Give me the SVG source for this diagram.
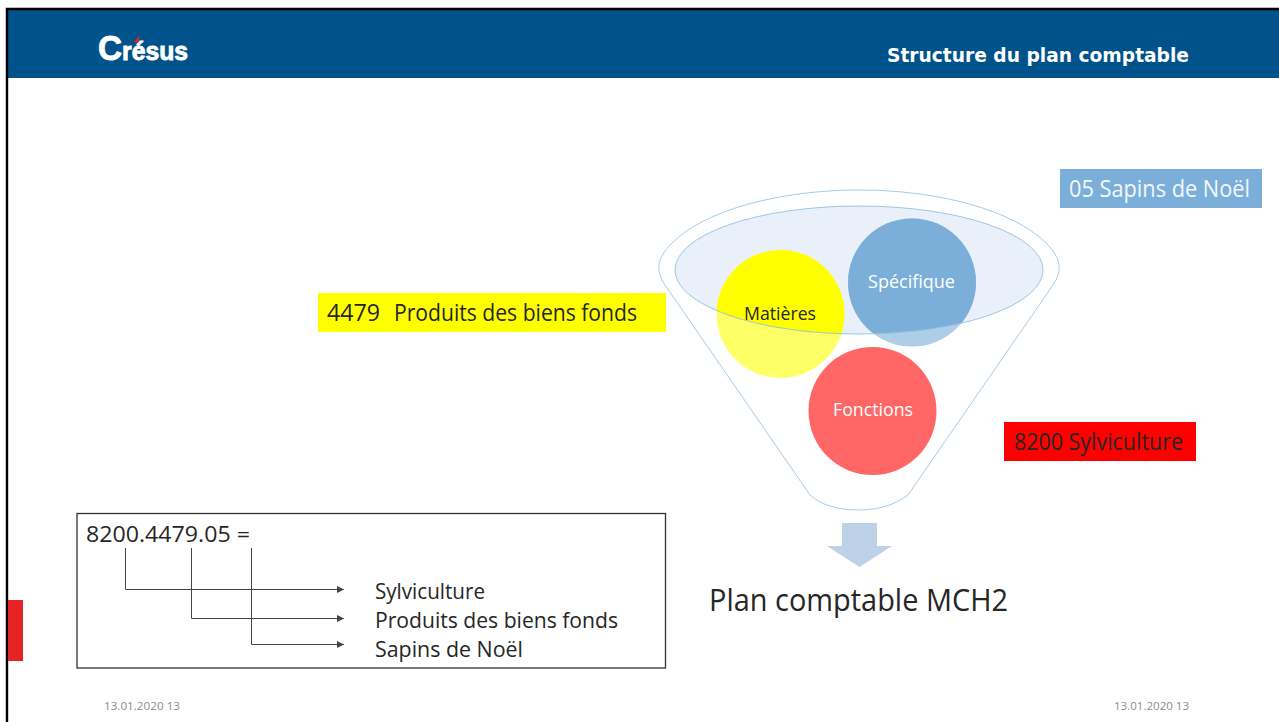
<svg xmlns="http://www.w3.org/2000/svg" width="1279" height="722" viewBox="0 0 1279 722">
<style>
text{font-family:"Open Sans","Noto Sans","Liberation Sans",sans-serif;fill:#262626}
.lbl{font-size:23px}
.box{font-size:22.500px}
.in{font-size:17.500px}
.foot{font-size:10.500px;fill:#8c8c8c}
.fl{fill:none;stroke:#9cc4e4;stroke-width:0.900}
.cn{fill:none;stroke:#444;stroke-width:1;marker-end:url(#ah)}
</style>
<defs>
<marker id="ah" markerUnits="userSpaceOnUse" markerWidth="8" markerHeight="8" refX="7" refY="4" orient="auto"><path d="M0 0.5L7 4L0 7.5Z" fill="#444"/></marker>
<clipPath id="inner"><ellipse cx="859" cy="270" rx="184" ry="64"/></clipPath>
</defs>
<rect width="1279" height="722" fill="#fff"/>
<g id="header">
<rect x="8" y="10" width="1271" height="68" fill="#00528a"/>
<path d="M7 722V9H1279" fill="none" stroke="#000" stroke-width="2.400"/>
<text x="98" y="60" textLength="90" lengthAdjust="spacingAndGlyphs" style="font-family:'Liberation Sans',sans-serif;font-weight:700;font-size:26px;fill:#fff;stroke:#fff;stroke-width:0.900"><tspan font-size="35">C</tspan>résus</text>
<path d="M140 35L138 43L134 42Z" fill="#e62322"/>
<text x="887" y="62" textLength="302" lengthAdjust="spacingAndGlyphs" style="font-family:'DejaVu Sans',sans-serif;font-weight:700;font-size:19.500px;fill:#fff">Structure du plan comptable</text>
</g>
<rect id="accent" x="8" y="600" width="15" height="61" fill="#e62322"/>
<g id="funnel">
<path class="fl" d="M665 285C655 270 657 258 672 243C705 210 780 190 859 190C938 190 1013 210 1046 243C1061 258 1063 270 1053 285L908 495C895 505 878 510 858 510C838 510 821 505 810 495Z"/>
<ellipse cx="859" cy="270" rx="184" ry="64" fill="#e9f0f9"/>
</g>
<g id="node-matieres">
<circle cx="780.500" cy="314" r="64" fill="#ffff66"/>
<circle cx="780.500" cy="314" r="64" fill="#ffff00" clip-path="url(#inner)"/>
<text class="in" x="744" y="320" textLength="72" lengthAdjust="spacingAndGlyphs">Matières</text>
</g>
<g id="node-specifique">
<circle cx="912" cy="282.500" r="64" fill="#aecde6"/>
<circle cx="912" cy="282.500" r="64" fill="#7bafd9" clip-path="url(#inner)"/>
<text class="in" x="868" y="288" textLength="87" lengthAdjust="spacingAndGlyphs" style="fill:#fff">Spécifique</text>
</g>
<ellipse id="funnel-rim" cx="859" cy="270" rx="184" ry="64" fill="none" stroke="#93bfe0" stroke-width="0.900"/>
<g id="node-fonctions">
<circle cx="872.500" cy="411" r="64" fill="#ff6666"/>
<text class="in" x="833" y="416" textLength="80" lengthAdjust="spacingAndGlyphs" style="fill:#fff">Fonctions</text>
</g>
<path id="down-arrow" d="M842 523H877V546H892L859.500 567L827 546H842Z" fill="#bdd1e9"/>
<g id="label-specifique"><rect x="1060" y="169" width="202" height="39" fill="#7bafd9"/><text class="lbl" x="1069" y="197" textLength="181" lengthAdjust="spacingAndGlyphs" style="fill:#f2f6fb">05 Sapins de Noël</text></g>
<g id="label-matieres"><rect x="318" y="293" width="348" height="39" fill="#ffff00"/><text class="lbl" x="327" y="321" textLength="53" lengthAdjust="spacingAndGlyphs">4479</text><text class="lbl" x="394" y="321" textLength="243" lengthAdjust="spacingAndGlyphs">Produits des biens fonds</text></g>
<g id="label-fonctions"><rect x="1004" y="422" width="192" height="39" fill="#ff0000"/><text class="lbl" x="1014" y="450" textLength="169" lengthAdjust="spacingAndGlyphs">8200 Sylviculture</text></g>
<text id="title-mch2" x="709" y="611" textLength="299" lengthAdjust="spacingAndGlyphs" style="font-size:31px">Plan comptable MCH2</text>
<g id="legend">
<rect x="77" y="513.500" width="588.500" height="154.500" fill="none" stroke="#333" stroke-width="1.300"/>
<text class="box" x="86" y="542" textLength="164" lengthAdjust="spacingAndGlyphs">8200.4479.05 =</text>
<text class="box" x="375" y="599" textLength="110" lengthAdjust="spacingAndGlyphs">Sylviculture</text>
<text class="box" x="375" y="628" textLength="243" lengthAdjust="spacingAndGlyphs">Produits des biens fonds</text>
<text class="box" x="375" y="657" textLength="148" lengthAdjust="spacingAndGlyphs">Sapins de Noël</text>
</g>
<g id="connectors">
<path class="cn" d="M125.500 548V589.500H344"/>
<path class="cn" d="M191.500 548V618.500H344"/>
<path class="cn" d="M251.500 548V644.500H344"/>
</g>
<text class="foot" x="104" y="710" textLength="76" lengthAdjust="spacingAndGlyphs">13.01.2020 13</text>
<text class="foot" x="1114" y="710" textLength="75" lengthAdjust="spacingAndGlyphs">13.01.2020 13</text>
</svg>
